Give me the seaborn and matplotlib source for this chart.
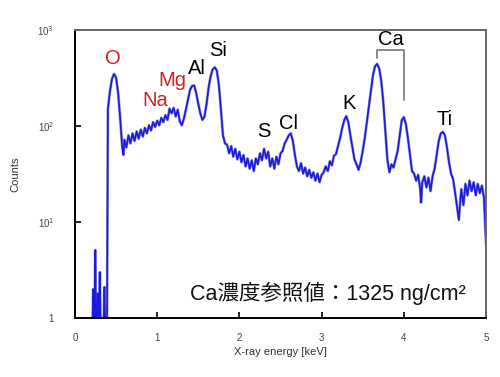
import matplotlib
matplotlib.use('Agg')
import matplotlib.pyplot as plt
import numpy as np
import pandas as pd
import seaborn as sns
from matplotlib.ticker import FixedLocator, NullLocator

# spectrum: energy [keV] and counts
low_energy = [0.20, 0.215, 0.222, 0.229, 0.240, 0.247, 0.254, 0.270, 0.276, 0.282,
              0.295, 0.302, 0.309, 0.350, 0.358, 0.366, 0.375, 0.390]
low_counts = [1, 1, 2.0, 1, 1, 5.1, 1, 1, 1.8, 1,
              1, 3.0, 1, 1, 2.1, 1, 1, 1]

main_energy = [
    0.400, 0.425, 0.450, 0.475, 0.500, 0.525, 0.550, 0.575, 0.590, 0.600,
    0.625, 0.650, 0.675, 0.700, 0.725, 0.750, 0.775, 0.800, 0.825, 0.850,
    0.875, 0.900, 0.925, 0.950, 0.975, 1.000, 1.025, 1.050, 1.075, 1.100,
    1.125, 1.150, 1.175, 1.200, 1.225, 1.250, 1.275, 1.300, 1.325, 1.350,
    1.375, 1.400, 1.425, 1.450, 1.475, 1.500, 1.525, 1.550, 1.575, 1.600,
    1.625, 1.650, 1.675, 1.700, 1.725, 1.750, 1.775, 1.800, 1.825, 1.850,
    1.875, 1.900, 1.925, 1.950, 1.975, 2.000, 2.025, 2.050, 2.075, 2.100,
    2.125, 2.150, 2.175, 2.200, 2.225, 2.250, 2.275, 2.300, 2.325, 2.350,
    2.375, 2.400, 2.425, 2.450, 2.475, 2.500, 2.525, 2.550, 2.575, 2.600,
    2.625, 2.650, 2.675, 2.700, 2.725, 2.750, 2.775, 2.800, 2.825, 2.850,
    2.875, 2.900, 2.925, 2.950, 2.975, 3.000, 3.025, 3.050, 3.075, 3.100,
    3.125, 3.150, 3.175, 3.200, 3.225, 3.250, 3.275, 3.300, 3.325, 3.350,
    3.375, 3.400, 3.425, 3.450, 3.475, 3.500, 3.525, 3.550, 3.575, 3.600,
    3.625, 3.650, 3.675, 3.700, 3.725, 3.750, 3.775, 3.800, 3.825, 3.850,
    3.875, 3.900, 3.925, 3.950, 3.975, 4.000, 4.025, 4.050, 4.075, 4.100,
    4.125, 4.150, 4.175, 4.200, 4.210, 4.225, 4.250, 4.275, 4.300, 4.325,
    4.350, 4.375, 4.400, 4.425, 4.450, 4.475, 4.500, 4.525, 4.550, 4.575,
    4.600, 4.625, 4.650, 4.670, 4.690, 4.700, 4.725, 4.750, 4.775, 4.800,
    4.825, 4.850, 4.875, 4.900, 4.925, 4.950, 4.975, 5.000,
]
main_counts = [
    150, 230, 310, 350, 320, 220, 120, 60, 50, 72,
    60, 80, 66, 84, 70, 88, 74, 92, 78, 96,
    84, 102, 90, 110, 98, 114, 102, 122, 110, 130,
    116, 152, 136, 155, 126, 148, 112, 102, 120, 150,
    190, 240, 262, 265, 220, 170, 135, 116, 125, 170,
    250, 330, 390, 410, 380, 270, 150, 80, 66, 64,
    52, 62, 48, 58, 45, 54, 42, 50, 38, 46,
    36, 44, 34, 46, 40, 52, 44, 58, 46, 54,
    38, 46, 36, 48, 40, 52, 55, 66, 72, 80,
    84, 70, 50, 38, 34, 41, 32, 37, 30, 35,
    29, 33, 27, 32, 26, 31, 33, 38, 34, 43,
    39, 49, 51, 62, 75, 95, 115, 127, 110, 80,
    60, 45, 40, 35, 42, 55, 75, 110, 160, 240,
    340, 420, 445, 400, 300, 180, 90, 45, 33, 40,
    37, 45, 55, 80, 115, 124, 105, 75, 50, 34,
    32, 27, 31, 22, 16, 26, 30, 23, 29, 21,
    30, 36, 50, 70, 84, 87, 80, 60, 42, 32,
    28, 20, 14, 10.5, 18, 22, 15, 25, 19, 27,
    21, 26, 19, 25, 20, 24, 18, 6,
]

# element labels: text, colour, energy, counts
labels = [
    ('O', '#d42020', 0.46, 510),
    ('Na', '#d42020', 0.98, 186),
    ('Mg', '#d42020', 1.18, 302),
    ('Al', 'black', 1.48, 400),
    ('Si', 'black', 1.74, 617),
    ('S', 'black', 2.30, 87),
    ('Cl', 'black', 2.60, 107),
    ('K', 'black', 3.33, 174),
    ('Ca', 'black', 3.84, 790),
    ('Ti', 'black', 4.49, 116),
]

df = pd.DataFrame({
    'energy': low_energy + main_energy,
    'counts': low_counts + main_counts,
})

sns.set_style('ticks')
plt.rcParams['font.family'] = ['Liberation Sans', 'Noto Sans CJK JP', 'DejaVu Sans']

fig = plt.figure(figsize=(5.0, 3.77), dpi=100)
ax = fig.add_axes([0.15, 0.1565, 0.822, 0.7635])

sns.lineplot(data=df, x='energy', y='counts', sort=False, estimator=None,
             color='#9a9ac8', linewidth=2.0, ax=ax)
sns.lineplot(data=df, x='energy', y='counts', sort=False, estimator=None,
             color='#1a1ae0', linewidth=1.2, ax=ax)

ax.set_yscale('log')
ax.set_xlim(0, 5)
ax.set_ylim(1, 1000)

ax.yaxis.set_major_locator(FixedLocator([1, 10, 100, 1000]))
ax.yaxis.set_minor_locator(NullLocator())
ax.set_yticklabels(['1', '10$^1$', '10$^2$', '10$^3$'])
ax.set_xticks([0, 1, 2, 3, 4, 5])
ax.set_xticklabels(['0', '1', '2', '3', '4', '5'])
ax.tick_params(axis='both', direction='in', length=4, width=1.2,
               labelsize=7, colors='black', labelcolor='#444444')
ax.tick_params(axis='y', pad=15)
ax.tick_params(axis='x', pad=11)

for side in ax.spines.values():
    side.set_linewidth(1.4)
    side.set_color('black')
ax.spines['top'].set_color('#666666')
ax.spines['right'].set_color('#666666')

ax.set_xlabel('X-ray energy [keV]', fontsize=8, color='#333333', labelpad=3)
ax.set_ylabel('Counts', fontsize=8, color='#333333', labelpad=12)

for text, colour, e, c in labels:
    ax.text(e, c, text, color=colour, fontsize=14.5, ha='center', va='center')

# bracket joining the two Ca peaks
ax.plot([3.67, 3.67, 4.00, 4.00], [512, 617, 617, 187], color='#777777', linewidth=1.2)

ax.text(0.615, 0.087, 'Ca濃度参照値：1325 ng/cm²', transform=ax.transAxes,
        fontsize=15.5, ha='center', va='center', color='#111111')

fig.savefig('out.png', dpi=100)
